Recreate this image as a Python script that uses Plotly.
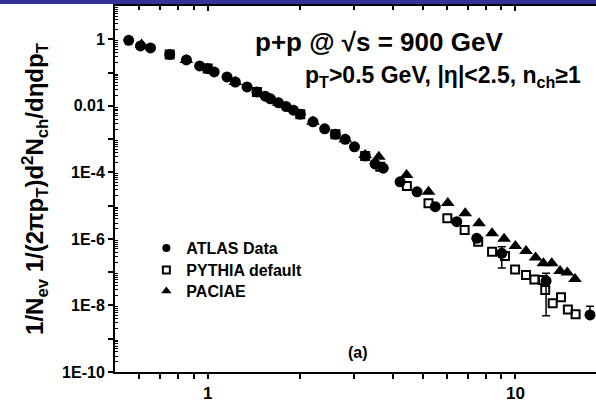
import numpy as np
import plotly.graph_objects as go

# ---------------- data ----------------
atlas_pt = [0.554, 0.605, 0.652, 0.753, 0.853, 0.942, 1.0, 1.05, 1.156, 1.23, 1.343, 1.446, 1.539,
            1.6, 1.7, 1.8, 1.9, 2.0, 2.2, 2.4, 2.6, 2.8, 3.0, 3.25, 3.5, 3.72,
            4.22, 4.79, 5.49, 6.45, 7.49, 9.03, 12.58, 17.48]
atlas_y = [0.93, 0.63, 0.55, 0.35, 0.24, 0.158, 0.132, 0.104, 0.074, 0.052, 0.037, 0.026, 0.0195,
           0.01626, 0.01233, 0.00948, 0.0074, 0.00561, 0.0033, 0.00203, 0.00139, 9.84e-4, 5.86e-4, 3.1e-4, 1.79e-4, 1.34e-4,
           5.2e-5, 2.61e-5, 9.3e-6, 3.29e-6, 1.04e-6, 3.7e-7, 5.46e-8, 5.2e-9]
atlas_err_up = [0]*31 + [2.15e-7, 3.84e-8, 4.2e-9]
atlas_err_dn = [0]*31 + [2.36e-7, 4.97e-8, 0]

pythia_pt = [0.753, 1.0, 1.446, 2.0, 2.6, 3.25,
             3.64, 4.44, 5.22, 6.01, 6.84, 7.57, 8.40, 9.25, 9.98, 10.83, 11.53, 12.3, 12.5,
             13.22, 14.07, 14.81, 15.69]
pythia_y = [0.35, 0.132, 0.026, 0.00561, 0.00139, 3.1e-4,
            1.47e-4, 3.87e-5, 1.17e-5, 4.16e-6, 1.85e-6, 8.26e-7, 4.14e-7, 3.07e-7, 1.21e-7, 8.27e-8, 6.05e-8, 5.85e-8, 2.93e-8,
            1.17e-8, 1.75e-8, 7.5e-9, 5.4e-9]

paciae_pt = [0.61, 0.853, 1.23, 1.7, 2.2, 2.8, 3.25,
             3.60, 4.43, 5.22, 6.03, 6.87, 7.62, 8.40, 9.19, 10.0, 10.83, 11.63, 12.33, 13.13,
             13.97, 14.75, 15.62]
paciae_y = [0.7, 0.24, 0.052, 0.01233, 0.0033, 9.84e-4, 3.3e-4,
            2.94e-4, 8.28e-5, 2.61e-5, 1.2e-5, 5.88e-6, 2.94e-6, 1.48e-6, 1.01e-6, 6.13e-7, 4.35e-7, 2.77e-7, 1.86e-7, 1.86e-7,
            1.09e-7, 9.8e-8, 6.27e-8]

x_major = [1, 10]
x_major_text = ["1", "10"]
y_major = [10.0 ** k for k in range(0, -11, -1)]
y_major_text = ["1", "", "0.01", "", "1E-4", "", "1E-6", "", "1E-8", "", "1E-10"]

# ---------------- figure ----------------
FONT = "Arial, Liberation Sans, sans-serif"
W, H = 596, 404
ML, MR, MT, MB = 114.6, 0, 5.5, 32
pw = W - ML - MR
ph = H - MT - MB


def px_x(p):
    return (p - ML) / pw


def px_y(p):
    return 1 - (p - MT) / ph


fig = go.Figure()

fig.add_trace(go.Scatter(x=pythia_pt, y=pythia_y, mode="markers", showlegend=False,
                         marker=dict(symbol="square-open", size=8, color="black",
                                     line=dict(width=2, color="black"))))
fig.add_trace(go.Scatter(x=paciae_pt, y=paciae_y, mode="markers", showlegend=False,
                         marker=dict(symbol="triangle-up", size=12, color="black")))
fig.add_trace(go.Scatter(x=atlas_pt, y=atlas_y, mode="markers", showlegend=False,
                         marker=dict(symbol="circle", size=11, color="black"),
                         error_y=dict(type="data", symmetric=False, array=atlas_err_up,
                                      arrayminus=atlas_err_dn, color="black",
                                      thickness=1.5, width=4)))

# legend entries (one legend per row so rows can be placed exactly)
fig.add_trace(go.Scatter(x=[None], y=[None], mode="markers", name="ATLAS Data", legend="legend",
                         marker=dict(symbol="circle", size=8, color="black")))
fig.add_trace(go.Scatter(x=[None], y=[None], mode="markers", name="PYTHIA default", legend="legend2",
                         marker=dict(symbol="square-open", size=7, color="black",
                                     line=dict(width=2, color="black"))))
fig.add_trace(go.Scatter(x=[None], y=[None], mode="markers", name="PACIAE", legend="legend3",
                         marker=dict(symbol="triangle-up", size=9, color="black")))

# dummy trace for top axis
fig.add_trace(go.Scatter(x=[1], y=[1], xaxis="x2", mode="markers", showlegend=False,
                         marker=dict(opacity=0), hoverinfo="skip"))

x_minor = [0.6, 0.7, 0.8, 0.9, 2, 3, 4, 5, 6, 7, 8, 9]
y_minor = [m * 10.0 ** k for k in range(-10, 1) for m in range(2, 10)]

xr = [np.log10(0.5), np.log10(0.5) + pw / 308.0]

leg_common = dict(xanchor="left", yanchor="top", bgcolor="rgba(0,0,0,0)", borderwidth=0,
                  font=dict(family=FONT, size=16, weight="bold"), itemwidth=30)

fig.update_layout(
    width=W, height=H,
    margin=dict(l=ML, r=MR, t=MT, b=MB, autoexpand=False),
    paper_bgcolor="white", plot_bgcolor="white",
    font=dict(family=FONT, size=17, color="black"),
    xaxis=dict(type="log", range=xr, showgrid=False, zeroline=False,
               showline=True, linewidth=2, linecolor="black",
               tickmode="array", tickvals=x_major, ticktext=x_major_text,
               ticks="outside", ticklen=5, tickwidth=1.5, tickcolor="black",
               tickfont=dict(family=FONT, size=17, weight="bold"),
               minor=dict(tickmode="array", tickvals=x_minor, ticks="outside",
                          ticklen=5, tickwidth=1.5, tickcolor="black", showgrid=False)),
    xaxis2=dict(type="log", range=xr, overlaying="x", side="top", showgrid=False,
                zeroline=False, showline=True, linewidth=2, linecolor="black",
                tickmode="array", tickvals=x_major, showticklabels=False,
                ticks="inside", ticklen=5, tickwidth=1.5, tickcolor="black",
                minor=dict(tickmode="array", tickvals=x_minor, ticks="inside",
                           ticklen=4, tickwidth=1.5, tickcolor="black", showgrid=False)),
    yaxis=dict(type="log", range=[-10, 1], showgrid=False, zeroline=False,
               showline=True, linewidth=2, linecolor="black",
               tickmode="array", tickvals=y_major, ticktext=y_major_text,
               ticks="outside", ticklen=5, tickwidth=1.5, tickcolor="black",
               tickfont=dict(family=FONT, size=16, weight="bold"),
               minor=dict(tickmode="array", tickvals=y_minor, ticks="inside",
                          ticklen=3, tickwidth=1, tickcolor="black", showgrid=False),
               title=dict(text="1/N<sub>ev</sub> 1/(2πp<sub>T</sub>)d<sup>2</sup>N<sub>ch</sub>/dηdp<sub>T</sub>",
                          font=dict(family=FONT, size=24, weight="bold"), standoff=12)),
    legend=dict(x=px_x(146), y=px_y(231), **leg_common),
    legend2=dict(x=px_x(146), y=px_y(253), **leg_common),
    legend3=dict(x=px_x(146), y=px_y(274), **leg_common),
    showlegend=True,
)

fig.add_annotation(x=px_x(253), y=px_y(42), xref="paper", yref="paper",
                   xanchor="left", yanchor="middle",
                   text="p+p @ √s = 900 GeV", showarrow=False,
                   font=dict(family=FONT, size=26, weight="bold"))
fig.add_annotation(x=px_x(303), y=px_y(76), xref="paper", yref="paper",
                   xanchor="left", yanchor="middle",
                   text="p<sub>T</sub>&gt;0.5 GeV, |η|&lt;2.5, n<sub>ch</sub>≥1", showarrow=False,
                   font=dict(family=FONT, size=23, weight="bold"))
fig.add_annotation(x=px_x(358), y=px_y(352), xref="paper", yref="paper",
                   xanchor="center", yanchor="middle",
                   text="(a)", showarrow=False,
                   font=dict(family=FONT, size=16, weight="bold"))

fig.write_html("out.html", config={"displayModeBar": False},
               post_script=(
                   "document.body.style.margin='0px';"
                   "var bar=document.createElement('div');"
                   "bar.style.cssText='position:fixed;left:0;top:0;width:596px;height:4px;"
                   "background:#333399;z-index:1000;pointer-events:none;';"
                   "document.body.appendChild(bar);"
               ))
